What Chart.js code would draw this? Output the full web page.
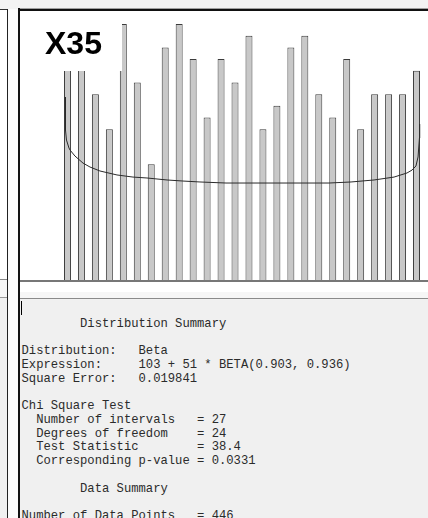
<!DOCTYPE html>
<html>
<head>
<meta charset="utf-8">
<script src="https://cdn.jsdelivr.net/npm/chart.js@4/dist/chart.umd.min.js"></script>
<style>
  html, body { margin: 0; padding: 0; }
  body { width: 428px; height: 518px; position: relative; overflow: hidden; background: #f3f3f3; }
  .a { position: absolute; }
  /* neighbouring window edge on the left */
  #leftTop    { left: 0; top: 9px;  width: 7px; height: 1px;   background: #333; }
  #leftChart  { left: 0; top: 10px; width: 7px; height: 269px; background: #fff; }
  #leftBase   { left: 0; top: 279px; width: 7px; height: 1px;  background: #888; }
  #leftBand   { left: 0; top: 280px; width: 7px; height: 17px; background: #f6f6f6; }
  #leftLine   { left: 0; top: 297px; width: 7px; height: 1px;  background: #999; }
  #leftText   { left: 0; top: 298px; width: 7px; height: 220px; background: #f0f0f0; }
  #leftEdge   { left: 7px; top: 9px; width: 1px; height: 509px; background: #222; }
  #gap        { left: 8px; top: 9px; width: 10px; height: 509px; background: #fbfbfb; }
  /* main window frame */
  #frameTopHi { left: 18px; top: 8px; width: 410px; height: 1px; background: #a0a0a0; }
  #frameTop   { left: 18px; top: 9px; width: 410px; height: 2px; background: #111; }
  #frameLeft  { left: 18px; top: 8px; width: 2px; height: 510px; background: #111; }
  #plot       { left: 20px; top: 11px; width: 408px; height: 281px; background: #fff; }
  #band       { left: 20px; top: 292px; width: 408px; height: 6px; background: #f6f6f6; }
  #sep        { left: 20px; top: 298px; width: 408px; height: 1px; background: #8a8a8a; }
  #report     { left: 20px; top: 299px; width: 408px; height: 219px; background: #f0f0f0; }
  #caret      { left: 21px; top: 301px; width: 1px; height: 14px; background: #000; }
  #summary {
    left: 21.5px; top: 317.5px; margin: 0;
    font-family: "Courier New", "Liberation Mono", monospace;
    font-size: 12.2px; line-height: 13.75px; color: #2b2b2b; white-space: pre;
  }
</style>
</head>
<body>
<div class="a" id="leftChart"></div>
<div class="a" id="leftTop"></div>
<div class="a" id="leftBase"></div>
<div class="a" id="leftBand"></div>
<div class="a" id="leftLine"></div>
<div class="a" id="leftText"></div>
<div class="a" id="gap"></div>
<div class="a" id="leftEdge"></div>
<div class="a" id="plot"><canvas id="hist" width="408" height="281"></canvas></div>
<div class="a" id="band"></div>
<div class="a" id="sep"></div>
<div class="a" id="report"></div>
<div class="a" id="frameTopHi"></div>
<div class="a" id="frameTop"></div>
<div class="a" id="frameLeft"></div>
<div class="a" id="caret"></div>
<pre class="a" id="summary">        Distribution Summary

Distribution:   Beta
Expression:     103 + 51 * BETA(0.903, 0.936)
Square Error:   0.019841

Chi Square Test
  Number of intervals   = 27
  Degrees of freedom    = 24
  Test Statistic        = 38.4
  Corresponding p-value = 0.0331

        Data Summary

Number of Data Points   = 446</pre>

<script>
// Histogram of variable X35: observation counts per interval
const variableName = "X35";
const binCounts = [19, 20, 16, 13, 22, 17, 10, 20, 22, 19, 14, 19, 17,
                   21, 13, 15, 20, 21, 16, 14, 19, 13, 16, 16, 16, 18];

// Fitted Beta density, expressed in interval index (x) and count units (y)
const curveX = [-0.158, -0.143, -0.072, 0.107, 0.179, 0.537, 1.110, 1.612,
                2.328, 3.546, 4.692, 5.695, 7.128, 8.274, 9.491, 11.354,
                12.858, 15.80, 18.73, 20.31, 21.96, 23.39, 24.32, 24.68,
                24.96, 25.11, 25.21, 25.23];
const curveY = [15.75, 12.93, 12.07, 11.39, 11.22, 10.70, 10.10, 9.76,
                9.42, 9.08, 8.90, 8.82, 8.65, 8.56, 8.48, 8.39,
                8.39, 8.39, 8.39, 8.48, 8.65, 8.90, 9.25, 9.50,
                9.85, 10.62, 12.24, 13.44];

const barPoints = binCounts.map((c, i) => ({ x: i, y: c }));
const curvePoints = curveX.map((x, i) => ({ x: x, y: curveY[i] }));

// Baseline under the histogram plus the white label box with the variable name
const histDecor = {
  id: 'histDecor',
  afterDatasetsDraw(chart) {
    const ctx = chart.ctx;
    const y0 = chart.scales.y.getPixelForValue(0);
    ctx.save();
    ctx.fillStyle = '#777';
    ctx.fillRect(0, y0 - 1, chart.width, 2);
    ctx.fillStyle = '#fff';
    ctx.fillRect(0, 0, 102, 60);
    ctx.fillStyle = '#000';
    ctx.font = 'bold 32px "Liberation Sans", Arial, sans-serif';
    ctx.textBaseline = 'alphabetic';
    ctx.fillText(variableName, 25, 43);
    ctx.restore();
  }
};

new Chart(document.getElementById('hist'), {
  data: {
    datasets: [
      {
        type: 'line',
        data: curvePoints,
        borderColor: '#2a2a2a',
        borderWidth: 1,
        pointRadius: 0,
        tension: 0,
        order: 0
      },
      {
        type: 'bar',
        data: barPoints,
        backgroundColor: '#c8c8c8',
        borderColor: '#3c3c3c',
        borderWidth: 1,
        categoryPercentage: 0.5,
        barPercentage: 1,
        order: 1
      }
    ]
  },
  options: {
    responsive: false,
    animation: false,
    devicePixelRatio: 1,
    layout: { padding: { left: 40.5, right: 4.5, top: 0, bottom: 11 } },
    plugins: { legend: { display: false }, tooltip: { enabled: false } },
    scales: {
      x: { type: 'linear', min: -0.5, max: 25.5, offset: false, display: false },
      y: { type: 'linear', min: 0, max: 23.12, display: false }
    }
  },
  plugins: [histDecor]
});
</script>
</body>
</html>
